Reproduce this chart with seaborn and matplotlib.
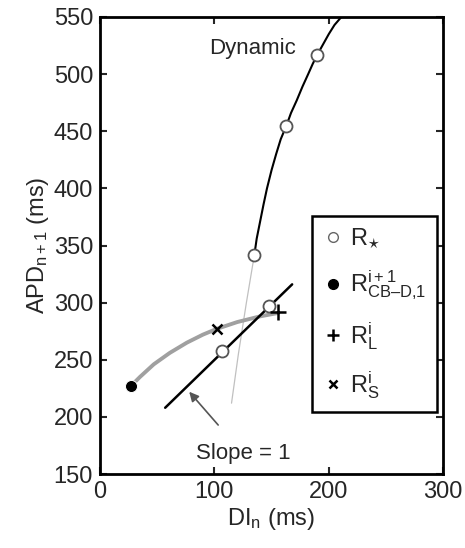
import matplotlib
matplotlib.use("Agg")
import matplotlib.pyplot as plt
import seaborn as sns
from matplotlib.lines import Line2D

# datos
dyn_di = [135, 137, 140, 143, 146, 150, 154, 158, 163, 167, 172, 177, 182, 186, 190, 195, 200, 205, 211]
dyn_apd = [342, 356, 371, 386, 400, 416, 430, 443, 455, 466, 477, 489, 500, 509, 517, 526, 535, 543, 550]
ext_di = [115, 121, 128, 135]
ext_apd = [212, 255, 300, 342]
gris_di = [27, 35, 47, 61, 76, 90, 102, 120, 140, 156]
gris_apd = [227, 235, 246, 256, 265, 272, 277, 283, 288, 291]
slope_di = [57, 168]
slope_apd = [208, 316]
rstar_di = [190, 163, 135, 148, 107]
rstar_apd = [517, 455, 342, 297, 258]
rcb_di, rcb_apd = [27], [227]
rl_di, rl_apd = [156], [292]
rs_di, rs_apd = [102], [277]

sns.set_style("ticks")
plt.rcParams['font.family'] = ['Liberation Sans', 'DejaVu Sans']
plt.rcParams['mathtext.fontset'] = 'custom'
plt.rcParams['mathtext.rm'] = 'Liberation Sans'
plt.rcParams['mathtext.it'] = 'Liberation Sans:italic'

fig = plt.figure(figsize=(4.65, 5.48), dpi=100)
ax = fig.add_axes([0.215, 0.135, 0.738, 0.834])

sns.lineplot(x=ext_di, y=ext_apd, ax=ax, color='#c0c0c0', lw=0.9, sort=False, estimator=None)
sns.lineplot(x=dyn_di, y=dyn_apd, ax=ax, color='black', lw=1.5, sort=False, estimator=None)
sns.lineplot(x=gris_di, y=gris_apd, ax=ax, color='#a0a0a0', lw=2.8, sort=False, estimator=None)
sns.lineplot(x=slope_di, y=slope_apd, ax=ax, color='black', lw=1.8, sort=False, estimator=None)

sns.scatterplot(x=rstar_di, y=rstar_apd, ax=ax, marker='o', s=75, facecolor='white',
                edgecolor='#555555', linewidth=1.3, zorder=5)
sns.scatterplot(x=rcb_di, y=rcb_apd, ax=ax, marker='o', s=75, color='black', zorder=5)
ax.plot(rl_di, rl_apd, marker='+', ms=11, mew=1.8, color='black', ls='none', zorder=6)
ax.plot(rs_di, rs_apd, marker='x', ms=7, mew=1.8, color='black', ls='none', zorder=6)

ax.text(133, 522, 'Dynamic', fontsize=16, ha='center', va='center')
ax.annotate('Slope = 1', xy=(78, 222), xytext=(125, 168), fontsize=16,
            ha='center', va='center',
            arrowprops=dict(arrowstyle='-|>', color='#555555', lw=1.2, mutation_scale=14,
                            shrinkA=14, shrinkB=0))

ax.set_xlim(0, 300)
ax.set_ylim(150, 550)
ax.set_xticks([0, 100, 200, 300])
ax.set_yticks(range(150, 551, 50))
ax.tick_params(direction='in', labelsize=17, top=True, right=True, width=1.5, length=5, pad=5)
for s in ax.spines.values():
    s.set_linewidth(2)
    s.set_color('black')
ax.set_xlabel(r'DI$_\mathrm{n}$ (ms)', fontsize=17, labelpad=2)
ax.set_ylabel(r'APD$_\mathrm{n+1}$ (ms)', fontsize=17, labelpad=2)

handles = [
    Line2D([], [], marker='o', ls='none', mfc='white', mec='#666666', ms=7),
    Line2D([], [], marker='o', ls='none', color='black', ms=7),
    Line2D([], [], marker='+', ls='none', color='black', ms=9, mew=1.8),
    Line2D([], [], marker='x', ls='none', color='black', ms=6, mew=1.8),
]
labels = [r'$\mathrm{R}_{\!\star}$', r'$\mathrm{R}^{\mathrm{i+1}}_{\mathrm{CB–D{,}1}}$',
          r'$\mathrm{R}^{\mathrm{i}}_{\mathrm{L}}$', r'$\mathrm{R}^{\mathrm{i}}_{\mathrm{S}}$']
leg = ax.legend(handles, labels, loc='upper left', bbox_to_anchor=(0.618, 0.565),
                borderaxespad=0, fontsize=17, frameon=True, fancybox=False, edgecolor='black',
                handletextpad=0.3, labelspacing=0.75, borderpad=0.45, handlelength=0.85)
leg.get_frame().set_linewidth(1.8)
leg.get_frame().set_alpha(1)

fig.savefig('out.png', dpi=100)
